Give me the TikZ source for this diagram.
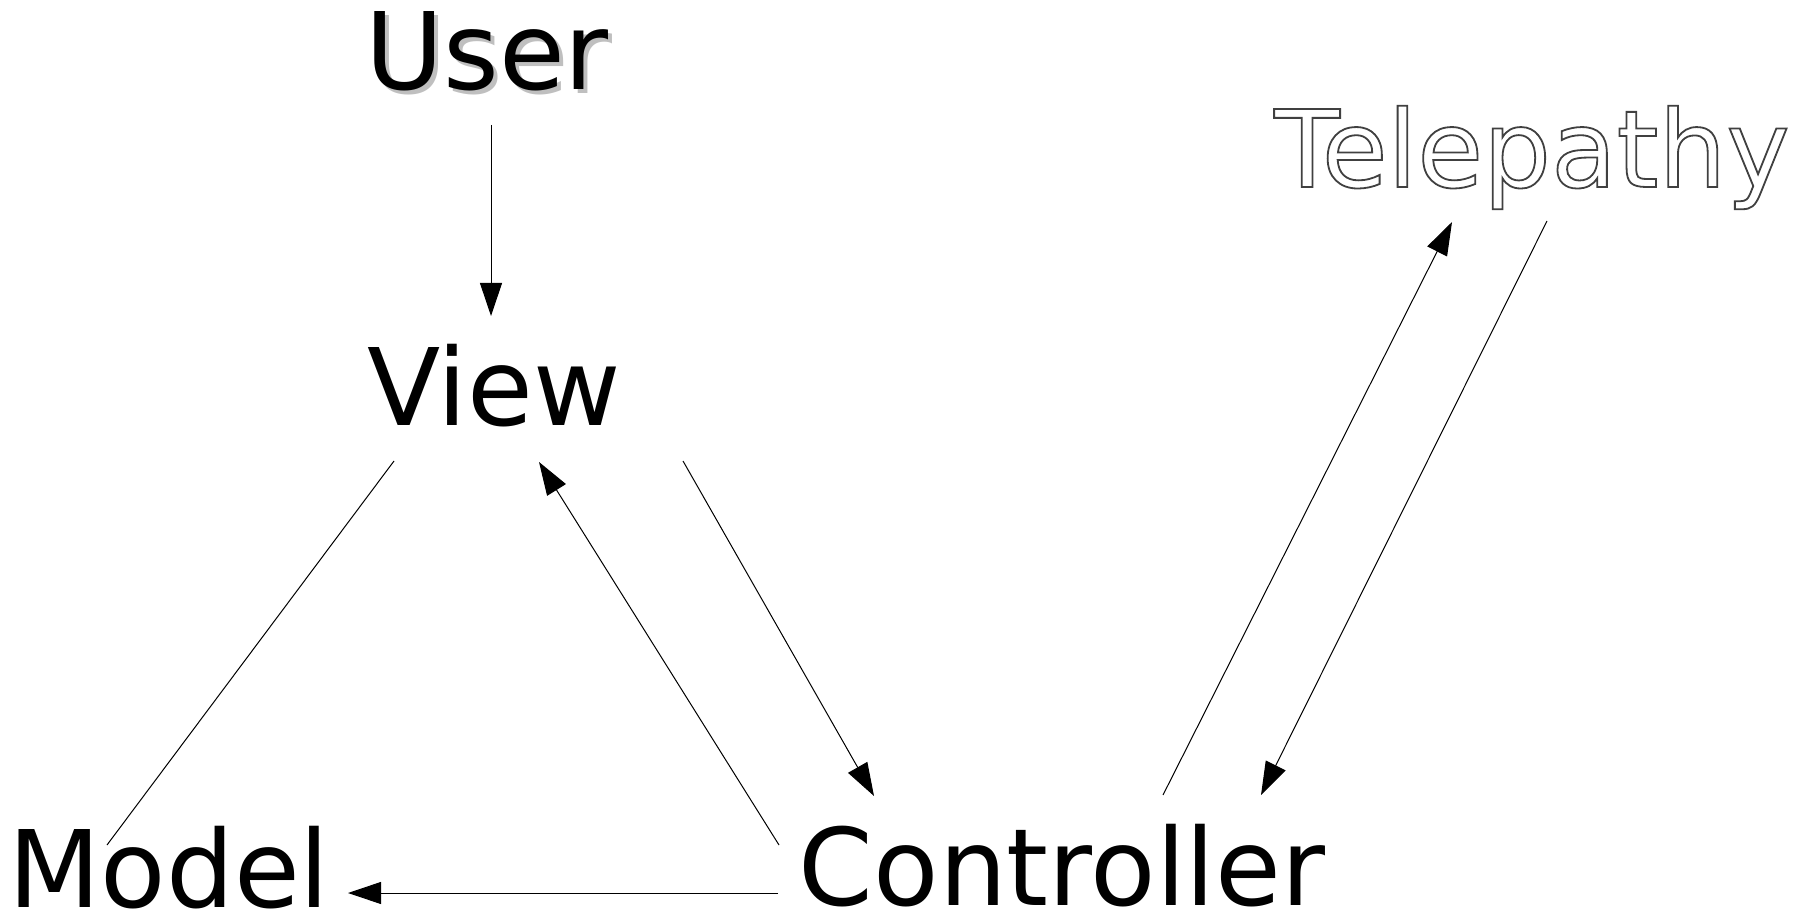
\documentclass[tikz,border=0pt]{standalone}
\usepackage{fontspec}
\setmainfont{DejaVu Sans}
\usetikzlibrary{arrows.meta}
\newcommand{\outlinetext}[1]{\special{pdf:code 1 Tr 0.9 w}#1\special{pdf:code 0 Tr}}
\begin{document}
\begin{tikzpicture}[x=0.5pt,y=-0.5pt,
  lbl/.style={font=\fontsize{53.5}{60}\selectfont, inner sep=0pt, anchor=base},
  conn/.style={line width=0.5pt, draw=black},
  tip/.style={-{Triangle[length=16.5pt,width=11pt]}}]
\useasboundingbox[fill=white] (0,0) rectangle (1802,913);
% labels
\node[lbl, text=black!25] (usershadow) at (491,94) {User};
\node[lbl] (user) at (487,90) {User};
\node[lbl] (view) at (494,426) {View};
\node[lbl] (model) at (169,907) {Model};
\node[lbl] (ctrl) at (1062,905) {Controller};
\node[lbl, text=black!75] (tele) at (1532,187) {\outlinetext{Telepathy}};
% connector end points
\coordinate (u1) at (491,125);
\coordinate (v1) at (491,316);
\coordinate (vm1) at (394,461);
\coordinate (vm2) at (107,845);
\coordinate (cv1) at (779,845);
\coordinate (cv2) at (539,462);
\coordinate (vc1) at (683,461);
\coordinate (vc2) at (874,796);
\coordinate (cm1) at (778,893);
\coordinate (cm2) at (348,893);
\coordinate (ct1) at (1163,795);
\coordinate (ct2) at (1452,222);
\coordinate (tc1) at (1547,221);
\coordinate (tc2) at (1261,795);
% connectors
\draw[conn,tip] (u1) -- (v1);
\draw[conn] (vm1) -- (vm2);
\draw[conn,tip] (cv1) -- (cv2);
\draw[conn,tip] (vc1) -- (vc2);
\draw[conn,tip] (cm1) -- (cm2);
\draw[conn,tip] (ct1) -- (ct2);
\draw[conn,tip] (tc1) -- (tc2);
\end{tikzpicture}
\end{document}
